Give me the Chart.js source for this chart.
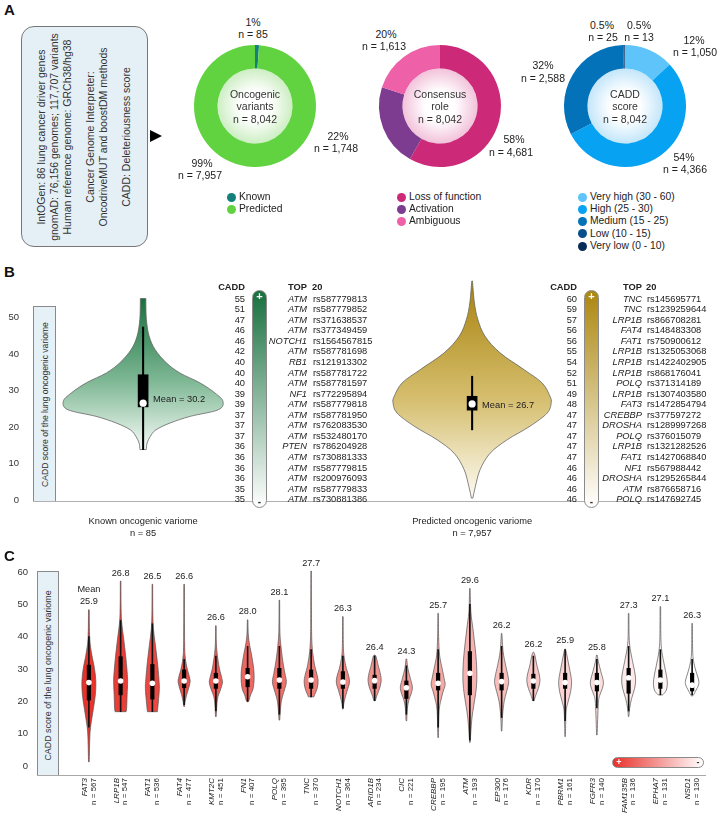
<!DOCTYPE html>
<html><head><meta charset="utf-8">
<script src="https://cdn.jsdelivr.net/npm/chart.js@4.4.1/dist/chart.umd.min.js"></script>
<style>
body{margin:0;background:#fff;}
#root{position:relative;width:719px;height:819px;overflow:hidden;font-family:"Liberation Sans",Arial,Helvetica,sans-serif;color:#222;}
.abs{position:absolute;white-space:nowrap;}
canvas{position:absolute;}
</style></head>
<body><div id="root"></div>
<script>
// ---------------- DATA ----------------
const oncoLabels = ['Known', 'Predicted'];
const oncoValues = [85, 7957];
const roleLabels = ['Loss of function', 'Activation', 'Ambiguous'];
const roleValues = [4681, 1748, 1613];
const caddLabels = ['Very high (30 - 60)', 'High (25 - 30)', 'Medium (15 - 25)', 'Low (10 - 15)', 'Very low (0 - 10)'];
const caddValues = [1050, 4366, 2588, 25, 13];

// Panel B: two violins
const bGroups = ['Known oncogenic variome', 'Predicted oncogenic variome'];
const bCounts = ['n = 85', 'n = 7,957'];
const bMeans = [30.2, 26.7];
const bMedian = [26.5, 26.3];
const bQ1 = [25.5, 24.6];
const bQ3 = [34.3, 28.4];
const bWhiskLo = [13.8, 19.2];
const bWhiskHi = [47.4, 33.9];
const bProfiles = [
  [[13.8,0.04],[15.6,0.05],[17.4,0.09],[19.2,0.16],[21.1,0.34],[22.9,0.59],[24.7,0.94],[27,1.0],[29.3,0.9],[32.1,0.71],[34.8,0.46],[37.6,0.29],[41.2,0.15],[44.9,0.075],[49.5,0.041],[55.2,0.034]],
  [[0.5,0.009],[3.7,0.041],[8.3,0.1],[12.8,0.225],[16.5,0.44],[20.2,0.725],[23.8,0.94],[26.6,0.99],[28.4,0.975],[32.1,0.875],[35.7,0.65],[40.3,0.35],[44.9,0.16],[49.5,0.071],[54,0.029],[60,0.004]]
];
const yTicksB = [0, 10, 20, 30, 40, 50];

// Panel B top-20 tables
const knownCadd = [55,51,47,46,46,42,40,40,40,39,39,37,37,37,36,36,36,36,35,35];
const knownGene = ['ATM','ATM','ATM','ATM','NOTCH1','ATM','RB1','ATM','ATM','NF1','ATM','ATM','ATM','ATM','PTEN','ATM','ATM','ATM','ATM','ATM'];
const knownRs = ['rs587779813','rs587779852','rs371638537','rs377349459','rs1564567815','rs587781698','rs121913302','rs587781722','rs587781597','rs772295894','rs587779818','rs587781950','rs762083530','rs532480170','rs786204928','rs730881333','rs587779815','rs200976093','rs587779833','rs730881386'];
const predCadd = [60,59,57,56,56,55,54,52,51,49,48,47,47,47,47,47,46,46,46,46];
const predGene = ['TNC','TNC','LRP1B','FAT4','FAT1','LRP1B','LRP1B','LRP1B','POLQ','LRP1B','FAT3','CREBBP','DROSHA','POLQ','LRP1B','FAT1','NF1','DROSHA','ATM','POLQ'];
const predRs = ['rs145695771','rs1239259644','rs866708281','rs148483308','rs750900612','rs1325053068','rs1422402905','rs868176041','rs371314189','rs1307403580','rs1472854794','rs377597272','rs1289997268','rs376015079','rs1321282526','rs1427068840','rs567988442','rs1295265844','rs876658716','rs147692745'];

// Panel C: per-gene violins
const genes = ['FAT3','LRP1B','FAT1','FAT4','KMT2C','FN1','POLQ','TNC','NOTCH1','ARID1B','CIC','CREBBP','ATM','EP300','KDR','PBRM1','FGFR3','FAM135B','EPHA7','NSD1'];
const geneN = [567,547,536,477,451,407,395,370,364,234,221,195,193,176,170,161,140,136,131,130];
const geneMean = ['25.9','26.8','26.5','26.6','26.6','28.0','28.1','27.7','26.3','26.4','24.3','25.7','29.6','26.2','26.2','25.9','25.8','27.3','27.1','26.3'];
const cQ1 = [20.4,22,20.7,24.2,24,24.5,24,24,24,24,20.9,23.5,22,23.5,24,24,23.2,22.5,24,23.2];
const cQ3 = [31.2,33.8,31.4,29.7,28.7,30.2,30.2,29.7,29.2,28.1,26.3,28.7,35.4,28.7,28.4,28.7,28.7,30.2,29.7,28.7];
const cMedian = [25.8,26.3,25.6,26.3,26.3,27.6,26.6,26.6,26,26.4,24.2,25.6,28.7,26.1,26.3,25.8,25.8,27.3,26.6,25];
const cWhiskLo = [12,16.8,16.8,19,17,20,16,21.4,18,20.2,16,12,8,15,20.2,14,18,17,22,22];
const cWhiskHi = [40,45,44,33,34,37,37,36,34,34,31,36,50,37,34,36,33,37,36,33];
const cProfiles = [
  [[1.3,0.05],[9.6,0.15],[13.7,0.35],[17.8,0.65],[22,0.93],[26.1,1.0],[30.2,0.8],[34.3,0.43],[39.5,0.12],[48.3,0.05]],
  [[16.8,0.78],[17.8,0.86],[22,0.93],[26.1,1.0],[29.2,0.93],[34.3,0.71],[39.5,0.43],[44.6,0.14],[50,0.06],[57.2,0.04]],
  [[16.8,0.71],[19.9,0.86],[24,1.0],[27.1,0.93],[32.3,0.71],[37.4,0.43],[42.6,0.14],[48,0.06],[56.2,0.04]],
  [[18.4,0.05],[19.9,0.14],[22,0.36],[24,0.64],[26.1,0.86],[27.6,0.75],[30.2,0.43],[33.3,0.18],[38,0.07],[56.2,0.04]],
  [[15.3,0.05],[18.9,0.14],[21.4,0.29],[23.5,0.64],[25.6,0.93],[27.1,0.86],[30.2,0.5],[34.3,0.21],[38,0.07],[43.4,0.04]],
  [[19.9,0.1],[20.4,0.21],[22,0.43],[24,0.79],[27.1,0.93],[30.2,0.86],[34.3,0.57],[37.4,0.29],[40.5,0.1],[45.2,0.04]],
  [[14.2,0.05],[18.9,0.21],[21.4,0.43],[24,0.79],[26.1,1.0],[28.7,0.79],[32.3,0.5],[37.4,0.21],[42,0.07],[51.3,0.04]],
  [[21.4,0.4],[22,0.5],[24,0.86],[26.1,1.0],[28.1,0.86],[31.2,0.5],[35.4,0.21],[40,0.08],[48,0.05],[60.3,0.03]],
  [[17.6,0.05],[19.4,0.14],[21.4,0.36],[23.5,0.64],[25.6,0.93],[27.6,0.86],[30.2,0.5],[33.3,0.21],[37,0.07],[46.2,0.04]],
  [[20.2,0.1],[22,0.36],[24,0.71],[26.1,0.93],[28.1,0.86],[31.2,0.5],[33.8,0.21],[34.3,0.05]],
  [[14,0.05],[17.8,0.14],[20.4,0.36],[22.5,0.71],[24.5,0.86],[27.1,0.57],[30.2,0.21],[33.1,0.05]],
  [[8.8,0.04],[16.8,0.14],[20,0.36],[23,0.71],[25.1,1.0],[27.1,0.86],[30.2,0.57],[34.3,0.21],[40,0.07],[47.2,0.04]],
  [[7.3,0.04],[10.6,0.14],[14.8,0.29],[18.9,0.57],[23,0.86],[27.1,1.0],[32.3,0.93],[37.4,0.71],[42.6,0.43],[47.7,0.14],[54.9,0.04]],
  [[10.8,0.04],[15.8,0.14],[19.9,0.36],[23,0.71],[25.6,1.0],[27.6,0.93],[31.2,0.57],[35.4,0.21],[41,0.04]],
  [[20.2,0.1],[22,0.36],[24,0.71],[26.1,0.93],[28.1,0.86],[31.2,0.5],[34.3,0.21],[35.2,0.05]],
  [[9.1,0.04],[16.8,0.14],[19.9,0.43],[23,0.79],[26.1,0.93],[29.2,0.71],[32.3,0.43],[35.4,0.14],[36.2,0.04]],
  [[9.6,0.04],[19.4,0.21],[22,0.43],[24,0.79],[26.1,0.93],[29.2,0.57],[32.3,0.21],[34.3,0.05]],
  [[15.3,0.04],[17.8,0.14],[20.9,0.43],[24,0.86],[26.6,1.0],[29.2,0.86],[32.3,0.57],[36.4,0.21],[40,0.07],[47.2,0.04]],
  [[22,0.3],[22.2,0.43],[23.5,0.86],[25.6,1.0],[28.1,0.86],[31.2,0.57],[35.4,0.21],[40,0.07],[49.3,0.04]],
  [[21.7,0.1],[22,0.21],[23.5,0.57],[25.1,0.93],[26.6,0.93],[29.2,0.57],[32.3,0.21],[36,0.07],[44.1,0.04]]
];
const yTicksC = [0, 10, 20, 30, 40, 50, 60];

// ---------------- HELPERS ----------------
const FONT = '"Liberation Sans", Arial, Helvetica, sans-serif';
Chart.defaults.font.family = FONT;
Chart.defaults.color = '#333';
Chart.defaults.animation = false;
const root = document.getElementById('root');

function T(x, y, s, o = {}) {
  const d = document.createElement('div');
  d.className = 'abs';
  const size = o.size || 10.5;
  d.style.fontSize = size + 'px';
  d.style.lineHeight = size + 'px';
  d.style.top = (y - size / 2) + 'px';
  d.style.left = x + 'px';
  const tx = o.align === 'right' ? '-100%' : o.align === 'left' ? '0' : '-50%';
  d.style.transform = 'translateX(' + tx + ')';
  if (o.bold) d.style.fontWeight = 'bold';
  if (o.italic) d.style.fontStyle = 'italic';
  d.style.color = o.color || '#222';
  d.textContent = s;
  root.appendChild(d);
  return d;
}
function box(x, y, w, h, css) {
  const d = document.createElement('div');
  d.className = 'abs';
  Object.assign(d.style, {left: x + 'px', top: y + 'px', width: w + 'px', height: h + 'px', boxSizing: 'border-box'}, css || {});
  root.appendChild(d);
  return d;
}
function makeCanvas(x, y, w, h) {
  const c = document.createElement('canvas');
  c.width = w; c.height = h;
  c.style.left = x + 'px'; c.style.top = y + 'px';
  c.style.width = w + 'px'; c.style.height = h + 'px';
  root.appendChild(c);
  return c;
}
function rotText(cx, cy, lines, size, w) {
  const d = document.createElement('div');
  d.className = 'abs';
  d.style.fontSize = size + 'px';
  d.style.width = w + 'px';
  d.style.textAlign = 'center';
  d.style.color = '#333';
  let h = 0;
  lines.forEach(l => {
    const e = document.createElement('div');
    if (l === null) { e.style.height = '10px'; h += 10; }
    else { e.textContent = l; e.style.lineHeight = '13px'; e.style.height = '13px'; h += 13; }
    d.appendChild(e);
  });
  d.style.left = (cx - w / 2) + 'px';
  d.style.top = (cy - h / 2) + 'px';
  d.style.height = h + 'px';
  d.style.transform = 'rotate(-90deg)';
  root.appendChild(d);
}
function mix(c1, c2, t) {
  const a = c1.match(/\w\w/g).map(h => parseInt(h, 16));
  const b = c2.match(/\w\w/g).map(h => parseInt(h, 16));
  return 'rgb(' + a.map((v, i) => Math.round(v + (b[i] - v) * t)).join(',') + ')';
}
function smoothPath(ctx, pts, move) {
  if (move) ctx.moveTo(pts[0][0], pts[0][1]); else ctx.lineTo(pts[0][0], pts[0][1]);
  for (let i = 0; i < pts.length - 1; i++) {
    const p0 = pts[i - 1] || pts[i], p1 = pts[i], p2 = pts[i + 1], p3 = pts[i + 2] || p2;
    ctx.bezierCurveTo(p1[0] + (p2[0] - p0[0]) / 6, p1[1] + (p2[1] - p0[1]) / 6,
                      p2[0] - (p3[0] - p1[0]) / 6, p2[1] - (p3[1] - p1[1]) / 6, p2[0], p2[1]);
  }
}
function violin(ctx, xs, ys, xv, halfW, prof, fill, stroke, lw) {
  const cx = xs.getPixelForValue(xv);
  const R = prof.map(p => [xs.getPixelForValue(xv + p[1] * halfW), ys.getPixelForValue(p[0])]);
  const L = prof.slice().reverse().map(p => [2 * cx - xs.getPixelForValue(xv + p[1] * halfW), ys.getPixelForValue(p[0])]);
  ctx.save();
  ctx.beginPath();
  smoothPath(ctx, R, true);
  smoothPath(ctx, L, false);
  ctx.closePath();
  ctx.fillStyle = fill; ctx.fill();
  ctx.strokeStyle = stroke; ctx.lineWidth = lw; ctx.stroke();
  ctx.restore();
}
function fixedY(min, max, ticks, width, padding) {
  return {
    min, max, grid: {display: false}, border: {display: false},
    afterFit(s) { s.width = width; },
    afterBuildTicks(s) { s.ticks = ticks.map(v => ({value: v})); s.min = min; s.max = max; },
    ticks: {padding, font: {size: 9.5}, color: '#333'}
  };
}

// ---------------- PANEL A ----------------
T(4, 9, 'A', {size: 15, bold: true, align: 'left', color: '#111'});
box(21, 26, 127, 221, {background: '#e5f0f6', border: '1px solid #777', borderRadius: '13px'});
rotText(83, 136.5, ['IntOGen: 86 lung cancer driver genes', 'gnomAD: 76,156 genomes; 117,707 variants', 'Human reference genome: GRCh38/hg38', null,
  'Cancer Genome Interpreter:', 'OncodriveMUT and boostDM methods', null, 'CADD: Deleteriousness score'], 10.5, 221);
box(150, 130, 0, 0, {borderLeft: '12px solid #000', borderTop: '6.5px solid transparent', borderBottom: '6.5px solid transparent'});

const centerGlow = {
  id: 'centerGlow',
  beforeDatasetsDraw(chart, args, opts) {
    const arc = chart.getDatasetMeta(0).data[0];
    if (!arc) return;
    const p = arc.getProps(['x', 'y', 'innerRadius'], true);
    const ctx = chart.ctx;
    const g = ctx.createRadialGradient(p.x, p.y, 0, p.x, p.y, p.innerRadius);
    g.addColorStop(0, '#ffffff'); g.addColorStop(0.4, '#ffffff'); g.addColorStop(1, opts.color);
    ctx.save(); ctx.beginPath(); ctx.arc(p.x, p.y, p.innerRadius, 0, Math.PI * 2);
    ctx.fillStyle = g; ctx.fill(); ctx.restore();
  }
};
function donut(cx, cy, labels, values, colors, glow) {
  const c = makeCanvas(cx - 65, cy - 65, 130, 130);
  new Chart(c, {
    type: 'doughnut',
    data: {labels, datasets: [{data: values, backgroundColor: colors, borderWidth: 0}]},
    options: {responsive: false, devicePixelRatio: 1, radius: 61, cutout: 40, layout: {padding: 0},
      plugins: {legend: {display: false}, tooltip: {enabled: false}, centerGlow: {color: glow}}},
    plugins: [centerGlow]
  });
}
const oncoColors = ['#13807a', '#62d340'];
const roleColors = ['#cc2a78', '#7d3c8f', '#ee60a8'];
const caddColors = ['#5ec4fa', '#08a2f2', '#0472b9', '#07508c', '#062d57'];
donut(255, 106, oncoLabels, oncoValues, oncoColors, '#cdeec3');
donut(440, 106, roleLabels, roleValues, roleColors, '#f2c2da');
donut(625, 106, caddLabels, caddValues, caddColors, '#c3e6fa');

function centerText(cx, cy, lines) {
  lines.forEach((l, i) => T(cx, cy - 12.5 + i * 12.5, l, {size: 10.5, color: '#333'}));
}
centerText(255, 106.5, ['Oncogenic', 'variants', 'n = 8,042']);
centerText(440, 106.5, ['Consensus', 'role', 'n = 8,042']);
centerText(625, 106.5, ['CADD', 'score', 'n = 8,042']);

// slice labels
[[253, 22, '1%'], [253, 34, 'n = 85'], [202, 163, '99%'], [200, 175, 'n = 7,957'],
 [386, 34, '20%'], [384, 46, 'n = 1,613'], [338, 136, '22%'], [336, 148, 'n = 1,748'],
 [514, 139, '58%'], [511, 152, 'n = 4,681'],
 [602, 25, '0.5%'], [603, 37, 'n = 25'], [639, 25, '0.5%'], [639, 37, 'n = 13'],
 [694, 40, '12%'], [695, 52, 'n = 1,050'], [543, 65, '32%'], [543, 78, 'n = 2,588'],
 [684, 157, '54%'], [685, 169, 'n = 4,366']
].forEach(a => T(a[0], a[1], a[2], {size: 10.5}));

// legends
function legend(dx, labels, colors) {
  labels.forEach((l, i) => {
    const y = 197 + i * 12.3;
    box(dx - 4.5, y - 4.5, 9, 9, {background: colors[i], borderRadius: '50%'});
    T(dx + 8, y, l, {size: 10.3, align: 'left'});
  });
}
legend(231, oncoLabels, oncoColors);
legend(401, roleLabels, roleColors);
legend(582, caddLabels, caddColors);

// ---------------- PANEL B ----------------
T(4, 271, 'B', {size: 15, bold: true, align: 'left', color: '#111'});
const B_TOP = 231;                 // canvas top (chart area starts 50px lower)
const bX = [2.67, 12.64];          // violin positions on the x scale
const B_HALFW = 2.42;              // max half width in x units
const bFill = [['#17703e', '#7fb895', '#f6fbf7'], ['#a8820c', '#d6bf70', '#fdfbf3']];
const bPlugin = {
  id: 'bViolins',
  beforeDatasetsDraw(chart) {
    const ctx = chart.ctx, xs = chart.scales.x, ys = chart.scales.y;
    bProfiles.forEach((prof, i) => {
      const top = ys.getPixelForValue(prof[prof.length - 1][0]);
      const bot = ys.getPixelForValue(prof[0][0]);
      const g = ctx.createLinearGradient(0, top, 0, bot);
      g.addColorStop(0, bFill[i][0]); g.addColorStop(0.55, bFill[i][1]); g.addColorStop(1, bFill[i][2]);
      violin(ctx, xs, ys, bX[i], B_HALFW, prof, g, '#666', 0.8);
    });
  },
  afterDatasetsDraw(chart) {
    const ctx = chart.ctx, xs = chart.scales.x, ys = chart.scales.y;
    ctx.save();
    ctx.font = '9.3px ' + FONT; ctx.fillStyle = '#222'; ctx.textAlign = 'left'; ctx.textBaseline = 'middle';
    bMeans.forEach((m, i) => {
      ctx.fillText('Mean = ' + m.toFixed(1), xs.getPixelForValue(bX[i]) + 10, ys.getPixelForValue(bMedian[i]) - (i === 0 ? 4 : -1));
    });
    ctx.restore();
  }
};
const cB = makeCanvas(0, B_TOP, 719, 320);
const chartB = new Chart(cB, {
  type: 'bar',
  data: {
    datasets: [
      {type: 'bar', data: bX.map((x, i) => ({x, y: [bWhiskLo[i], bWhiskHi[i]]})), backgroundColor: '#000', barThickness: 1.4, grouped: false, order: 3},
      {type: 'bar', data: bX.map((x, i) => ({x, y: [bQ1[i], bQ3[i]]})), backgroundColor: '#000', barThickness: 10, grouped: false, order: 2},
      {type: 'scatter', data: bX.map((x, i) => ({x, y: bMedian[i]})), pointRadius: 3.6, pointBackgroundColor: '#fff', pointBorderWidth: 0, order: 1}
    ]
  },
  options: {
    responsive: false, devicePixelRatio: 1,
    layout: {padding: {top: 50, bottom: 50, right: 4, left: 0}, autoPadding: false},
    plugins: {legend: {display: false}, tooltip: {enabled: false}},
    scales: {
      x: {type: 'linear', min: 0, max: 20, display: false, offset: false},
      y: fixedY(-0.3, 60, yTicksB, 55, 28)
    }
  },
  plugins: [bPlugin]
});
// axis title box and bottom line
box(33, 306, 23, 196, {background: '#e5f0f7', border: '1px solid #8a8a8a'});
rotText(44.5, 404, ['CADD score of the lung oncogenic variome'], 8.6, 190);
box(33, 500.5, 666, 1, {background: '#b0b0b0'});
bGroups.forEach((g, i) => {
  const px = chartB.scales.x.getPixelForValue(bX[i]);
  T(px, 522, g, {size: 9.3});
  T(px, 534, bCounts[i], {size: 9.3});
});
// top-20 tables
function table(vx, gx, rx, barX, barW, cadd, gene, rs, c1) {
  T(vx, 288, 'CADD', {size: 9.3, bold: true, align: 'right'});
  T(gx, 288, 'TOP', {size: 9.3, bold: true, align: 'right'});
  T(rx - 1, 288, '20', {size: 9.3, bold: true, align: 'left'});
  cadd.forEach((v, i) => {
    const y = 299.3 + i * 10.56;
    T(vx, y, String(v), {size: 9.3, align: 'right'});
    T(gx, y, gene[i], {size: 9.3, italic: true, align: 'right'});
    T(rx, y, rs[i], {size: 9.3, align: 'left'});
  });
  box(barX, 290, barW, 218, {background: 'linear-gradient(to bottom,' + c1 + ', #ffffff)', border: '1px solid #8a8a8a', borderRadius: '8px'});
  T(barX + barW / 2, 296, '+', {size: 11, color: '#fff', bold: true});
  T(barX + barW / 2, 502, '-', {size: 10, color: '#333', bold: true});
}
table(245, 307, 313, 252, 15, knownCadd, knownGene, knownRs, '#17703e');
table(577, 642, 647, 584, 15, predCadd, predGene, predRs, '#ac870f');

// ---------------- PANEL C ----------------
T(4, 555, 'C', {size: 15, bold: true, align: 'left', color: '#111'});
const C_TOP = 512;                 // canvas top (chart area starts 60px lower)
const C_HALFW = 0.22;
const cColors = genes.map((g, i) => mix('e8322a', 'ffffff', i / (genes.length - 1)));
const cPlugin = {
  id: 'cViolins',
  beforeDatasetsDraw(chart) {
    const ctx = chart.ctx, xs = chart.scales.x, ys = chart.scales.y;
    cProfiles.forEach((prof, i) => violin(ctx, xs, ys, i, C_HALFW, prof, cColors[i], '#555', 0.7));
  },
  afterDraw(chart) {
    const ctx = chart.ctx, xs = chart.scales.x, ys = chart.scales.y;
    ctx.save();
    ctx.fillStyle = '#222';
    genes.forEach((g, i) => {
      const x = xs.getPixelForValue(i);
      const prof = cProfiles[i];
      const topY = ys.getPixelForValue(prof[prof.length - 1][0]);
      ctx.font = '9.2px ' + FONT; ctx.textAlign = 'center'; ctx.textBaseline = 'middle';
      ctx.fillText(geneMean[i], x, topY - 8);
      if (i === 0) ctx.fillText('Mean', x, topY - 20);
      ctx.save();
      ctx.translate(x, chart.chartArea.bottom + 3);
      ctx.rotate(-Math.PI / 2);
      ctx.textAlign = 'right';
      ctx.font = 'italic 8px ' + FONT; ctx.fillText(g, 0, -4.2);
      ctx.font = '8px ' + FONT; ctx.fillText('n = ' + geneN[i], 0, 4.5);
      ctx.restore();
    });
    ctx.restore();
  }
};
const cC = makeCanvas(0, C_TOP, 719, 323);
const chartC = new Chart(cC, {
  type: 'bar',
  data: {
    labels: genes,
    datasets: [
      {type: 'bar', data: genes.map((g, i) => [cWhiskLo[i], cWhiskHi[i]]), backgroundColor: '#111', barThickness: 1, grouped: false, order: 3},
      {type: 'bar', data: genes.map((g, i) => [cQ1[i], cQ3[i]]), backgroundColor: '#000', barThickness: 3.5, grouped: false, order: 2},
      {type: 'line', data: cMedian, showLine: false, pointRadius: 2.8, pointBackgroundColor: '#fff', pointBorderWidth: 0, order: 1}
    ]
  },
  options: {
    responsive: false, devicePixelRatio: 1,
    layout: {padding: {top: 60, bottom: 60, right: 11, left: 0}, autoPadding: false},
    plugins: {legend: {display: false}, tooltip: {enabled: false}},
    scales: {
      x: {type: 'category', display: false, offset: true},
      y: fixedY(-2.78, 60, yTicksC, 73, 37)
    }
  },
  plugins: [cPlugin]
});
box(37, 571, 22, 205, {background: '#e5f0f7', border: '1px solid #8a8a8a'});
rotText(48, 675, ['CADD score of the lung oncogenic variome'], 8.9, 200);
box(37, 774.5, 669, 1, {background: '#a8a8a8'});
box(612, 757, 92, 11, {background: 'linear-gradient(to right, #e8302a, #ffffff)', border: '1px solid #8a8a8a', borderRadius: '6px'});
T(619, 762.5, '+', {size: 9, color: '#fff', bold: true});
T(698, 762, '-', {size: 9, color: '#333', bold: true});
</script>
</body></html>
